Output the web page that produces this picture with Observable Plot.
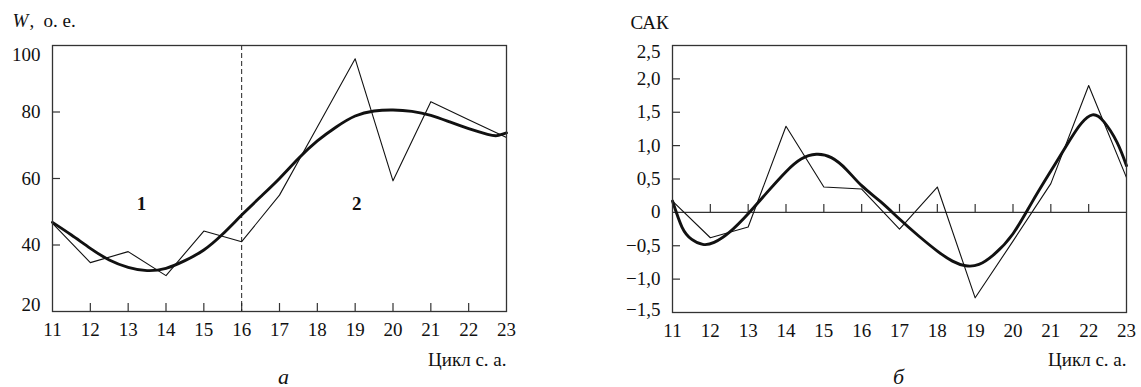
<!DOCTYPE html>
<html>
<head>
<meta charset="utf-8">
<script src="https://cdn.jsdelivr.net/npm/d3@7"></script>
<script src="https://cdn.jsdelivr.net/npm/@observablehq/plot@0.6"></script>
<style>
  html, body { margin: 0; padding: 0; background: #fff; }
  #wrap { display: flex; width: 1141px; height: 387px; }
  #wrap svg, #wrap svg text { font-family: "Liberation Serif", "DejaVu Serif", serif !important; }
</style>
</head>
<body>
<div id="wrap"></div>
<script>
// ---- Shared categories ----
const cycles = [11, 12, 13, 14, 15, 16, 17, 18, 19, 20, 21, 22, 23];
const xTickLabels = ["11", "12", "13", "14", "15", "16", "17", "18", "19", "20", "21", "22", "23"];
const xAxisTitle = "Цикл с. а.";

// ---- Panel а: W, o.e. ----
const wObserved = [46.5, 34.7, 38.0, 30.8, 44.2, 41.0, 55.0, 75.5, 96.0, 59.3, 83.1, 77.7, 72.3];
const wSmoothX = [11, 11.5, 12, 12.5, 13, 13.5, 14, 14.5, 15, 15.5, 16, 16.5, 17, 17.5, 18, 18.5, 19, 19.5, 20, 20.5, 21, 21.5, 22, 22.5, 22.75, 23];
const wSmooth  = [46.8, 43.0, 39.0, 35.5, 33.3, 32.3, 33.0, 35.3, 38.5, 43.3, 49.0, 54.5, 60.0, 66.0, 71.3, 75.5, 78.8, 80.3, 80.6, 80.2, 79.0, 77.0, 75.0, 73.3, 72.9, 73.7];
const wTicks = [20, 40, 60, 80, 100];
const wTickLabels = ["20", "40", "60", "80", "100"];
const wBoundary = [16];
const regionLabels = ["1", "2"];
const regionLabelX = [13.35, 19.04];
const regionLabelY = [52.5, 52.5];

// ---- Panel б: САК ----
const sakObserved = [0.17, -0.38, -0.22, 1.29, 0.38, 0.35, -0.25, 0.38, -1.28, -0.43, 0.43, 1.90, 0.52];
const sakSmoothX = [11, 11.25, 11.5, 11.8, 12.1, 12.5, 13, 13.5, 14, 14.4, 14.8, 15.2, 15.6, 16, 16.5, 17, 17.5, 18, 18.4, 18.75, 19.1, 19.5, 20, 20.5, 21, 21.5, 21.8, 22.1, 22.4, 22.75, 23];
const sakSmooth  = [0.17, -0.22, -0.40, -0.48, -0.45, -0.30, -0.02, 0.30, 0.61, 0.80, 0.87, 0.82, 0.64, 0.40, 0.16, -0.10, -0.35, -0.58, -0.73, -0.80, -0.78, -0.63, -0.32, 0.15, 0.62, 1.08, 1.33, 1.46, 1.36, 1.05, 0.70];
const sakTicks = [-1.5, -1.0, -0.5, 0, 0.5, 1.0, 1.5, 2.0, 2.5];
const sakTickLabels = ["−1,5", "−1,0", "−0,5", "0", "0,5", "1,0", "1,5", "2,0", "2,5"];

const FONT = "'Liberation Serif', 'DejaVu Serif', serif";
const FS = 19;

function rows(xs, ys) { return xs.map((x, i) => ({x, y: ys[i]})); }
function labelMap(ticks, labels) { const m = new Map(ticks.map((t, i) => [t, labels[i]])); return d => m.get(d); }

const innerX = cycles.slice(1, -1);

// y-axis labels: the end labels are nudged inside the frame, as in the original typesetting
function yAxes(ticks, labels, dyTop, dyBottom) {
  const fmt = labelMap(ticks, labels);
  const common = {tickSize: 0, tickPadding: 12, tickFormat: fmt, label: null, fontFamily: FONT};
  return [
    Plot.axisY({...common, ticks: ticks.slice(1, -1)}),
    Plot.axisY({...common, ticks: ticks.slice(-1), dy: dyTop}),
    Plot.axisY({...common, ticks: ticks.slice(0, 1), dy: dyBottom})
  ];
}

// ---------- Panel а ----------
const plotA = Plot.plot({
  width: 570, height: 387,
  marginLeft: 52, marginRight: 64, marginTop: 45, marginBottom: 76,
  style: {fontFamily: FONT, fontSize: FS + "px", color: "#111", background: "white"},
  x: {domain: [11, 23]},
  y: {domain: [20, 100]},
  marks: [
    Plot.axisX({ticks: cycles, tickSize: 0, tickPadding: 11, tickFormat: labelMap(cycles, xTickLabels), label: null, fontFamily: FONT}),
    ...yAxes(wTicks, wTickLabels, 9, -7),
    Plot.ruleX(innerX, {x: d => d, y1: 20, y2: 20, insetTop: -8, stroke: "#333", strokeWidth: 1.2}),
    Plot.ruleY(wTicks.slice(1, -1), {y: d => d, x1: 11, x2: 11, insetRight: -8, stroke: "#333", strokeWidth: 1.2}),
    Plot.ruleX(wBoundary, {x: d => d, stroke: "#222", strokeWidth: 1, strokeDasharray: "5,3"}),
    Plot.line(rows(cycles, wObserved), {x: "x", y: "y", stroke: "#111", strokeWidth: 1.1}),
    Plot.line(rows(wSmoothX, wSmooth), {x: "x", y: "y", stroke: "#111", strokeWidth: 2.9, curve: "natural"}),
    Plot.text(regionLabels, {x: (d, i) => regionLabelX[i], y: (d, i) => regionLabelY[i], text: d => d, fontWeight: "bold", fontSize: 19, fill: "#111", fontFamily: FONT}),
    Plot.frame({stroke: "#333", strokeWidth: 1.3}),
    Plot.text(["W"], {text: d => d, frameAnchor: "top-left", dx: -40, dy: -19, lineAnchor: "bottom", textAnchor: "start", fontStyle: "italic", fontSize: FS, fill: "#111", fontFamily: FONT}),
    Plot.text([","], {text: d => d, frameAnchor: "top-left", dx: -23, dy: -19, lineAnchor: "bottom", textAnchor: "start", fontSize: FS, fill: "#111", fontFamily: FONT}),
    Plot.text(["о. е."], {text: d => d, frameAnchor: "top-left", dx: -9, dy: -19, lineAnchor: "bottom", textAnchor: "start", fontSize: FS, fill: "#111", fontFamily: FONT}),
    Plot.text([xAxisTitle], {text: d => d, frameAnchor: "bottom-right", dx: 0, dy: 54, lineAnchor: "bottom", textAnchor: "end", fontSize: FS, fill: "#111", fontFamily: FONT}),
    Plot.text(["а"], {text: d => d, frameAnchor: "bottom", dx: 4, dy: 72, lineAnchor: "bottom", fontStyle: "italic", fontSize: 22, fill: "#111", fontFamily: FONT})
  ]
});

// ---------- Panel б ----------
const plotB = Plot.plot({
  width: 571, height: 387,
  marginLeft: 102, marginRight: 15, marginTop: 45, marginBottom: 75,
  style: {fontFamily: FONT, fontSize: FS + "px", color: "#111", background: "white"},
  x: {domain: [11, 23]},
  y: {domain: [-1.5, 2.5]},
  marks: [
    Plot.axisX({ticks: cycles, tickSize: 0, tickPadding: 11, tickFormat: labelMap(cycles, xTickLabels), label: null, fontFamily: FONT}),
    ...yAxes(sakTicks, sakTickLabels, 6, -3),
    Plot.ruleY([0], {stroke: "#333", strokeWidth: 1.3}),
    Plot.ruleX(innerX, {x: d => d, y1: 0, y2: 0, insetTop: -8, stroke: "#333", strokeWidth: 1.2}),
    Plot.ruleY(sakTicks.slice(1, -1).filter(t => t !== 0), {y: d => d, x1: 11, x2: 11, insetRight: -8, stroke: "#333", strokeWidth: 1.2}),
    Plot.line(rows(cycles, sakObserved), {x: "x", y: "y", stroke: "#111", strokeWidth: 1.1}),
    Plot.line(rows(sakSmoothX, sakSmooth), {x: "x", y: "y", stroke: "#111", strokeWidth: 2.9, curve: "natural"}),
    Plot.frame({stroke: "#333", strokeWidth: 1.3}),
    Plot.text(["САК"], {text: d => d, frameAnchor: "top-left", dx: -42, dy: -17, lineAnchor: "bottom", textAnchor: "start", fontSize: FS, fill: "#111", fontFamily: FONT}),
    Plot.text([xAxisTitle], {text: d => d, frameAnchor: "bottom-right", dx: 0, dy: 53, lineAnchor: "bottom", textAnchor: "end", fontSize: FS, fill: "#111", fontFamily: FONT}),
    Plot.text(["б"], {text: d => d, frameAnchor: "bottom", dx: -1, dy: 71, lineAnchor: "bottom", fontStyle: "italic", fontSize: 22, fill: "#111", fontFamily: FONT})
  ]
});

document.getElementById("wrap").append(plotA, plotB);
</script>
</body>
</html>
